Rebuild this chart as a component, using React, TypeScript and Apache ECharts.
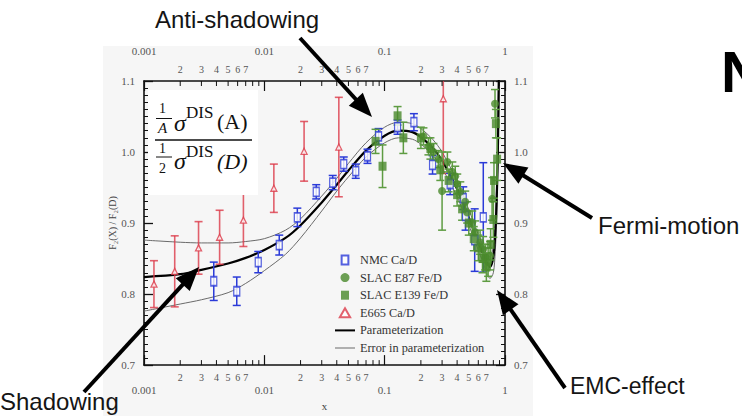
import React, { useEffect, useRef } from 'react';
import * as echarts from 'echarts';

const SERIF = '"Liberation Serif", "Times New Roman", serif';
const SANS = '"Liberation Sans", Arial, sans-serif';

// Axis tick labels
const decadeLabels = ['0.001', '0.01', '0.1', '1'];
const decadeStarts = [0.001, 0.01, 0.1];
const minorMultipliers = [2, 3, 4, 5, 6, 7, 8, 9];
const labeledMultipliers = [2, 3, 4, 5, 6, 7];

// Curves [x, ratio]
const parameterization = [
  [0.001, 0.824], [0.002, 0.828], [0.003, 0.834], [0.005, 0.843], [0.007, 0.851], [0.01, 0.862],
  [0.015, 0.879], [0.02, 0.897], [0.03, 0.929], [0.04, 0.954], [0.05, 0.974], [0.07, 1.002],
  [0.1, 1.023], [0.13, 1.03], [0.17, 1.028], [0.2, 1.021], [0.25, 1.006], [0.3, 0.988],
  [0.4, 0.948], [0.5, 0.908], [0.6, 0.873], [0.7, 0.846], [0.75, 0.838], [0.8, 0.852],
  [0.83, 0.885], [0.85, 0.925], [0.87, 0.99], [0.885, 1.08], [0.895, 1.15],
];
const errorUpper = [
  [0.001, 0.876], [0.002, 0.873], [0.003, 0.872], [0.005, 0.872], [0.007, 0.874], [0.01, 0.878],
  [0.015, 0.89], [0.02, 0.906], [0.03, 0.938], [0.04, 0.963], [0.05, 0.984], [0.07, 1.013],
  [0.1, 1.035], [0.13, 1.042], [0.17, 1.04], [0.2, 1.033], [0.25, 1.018], [0.3, 1.0],
  [0.4, 0.959], [0.5, 0.919], [0.6, 0.884], [0.7, 0.858], [0.75, 0.852], [0.8, 0.868],
  [0.83, 0.905], [0.85, 0.95], [0.865, 1.0], [0.88, 1.08], [0.89, 1.15],
];
const errorLower = [
  [0.001, 0.776], [0.002, 0.786], [0.003, 0.792], [0.005, 0.802], [0.007, 0.815], [0.01, 0.833],
  [0.015, 0.856], [0.02, 0.879], [0.03, 0.917], [0.04, 0.945], [0.05, 0.965], [0.07, 0.993],
  [0.1, 1.013], [0.13, 1.02], [0.17, 1.018], [0.2, 1.011], [0.25, 0.996], [0.3, 0.977],
  [0.4, 0.937], [0.5, 0.897], [0.6, 0.862], [0.7, 0.832], [0.75, 0.822], [0.8, 0.83],
  [0.83, 0.86], [0.85, 0.9], [0.875, 0.99], [0.89, 1.07], [0.9, 1.15],
];

// Data points [x, ratio, error]
const nmcCaD = [
  [0.0038, 0.818, 0.027], [0.0059, 0.804, 0.02], [0.0089, 0.845, 0.015], [0.0133, 0.869, 0.014],
  [0.0188, 0.908, 0.013], [0.027, 0.944, 0.01], [0.037, 0.957, 0.01], [0.0457, 0.983, 0.01],
  [0.0575, 0.973, 0.01], [0.072, 0.994, 0.01], [0.089, 1.022, 0.011], [0.128, 1.035, 0.01],
  [0.175, 1.042, 0.012], [0.25, 0.982, 0.013], [0.35, 0.955, 0.015], [0.45, 0.935, 0.016],
  [0.47, 0.91, 0.02], [0.56, 0.876, 0.044], [0.66, 0.908, 0.077],
];
const e665CaD = [
  [0.00121, 0.814, 0.033], [0.0018, 0.832, 0.05], [0.00284, 0.865, 0.037], [0.00425, 0.88, 0.038],
  [0.0067, 0.904, 0.037], [0.012, 0.949, 0.034], [0.0214, 1.001, 0.042], [0.0416, 1.007, 0.07],
  [0.307, 1.075, 0.105],
];
const slacE87FeD = [
  [0.21, 1.022, 0.012], [0.231, 1.008, 0.012], [0.254, 1.0, 0.012], [0.279, 0.99, 0.012],
  [0.3, 0.945, 0.055], [0.332, 0.986, 0.014], [0.365, 0.972, 0.014], [0.386, 0.966, 0.014],
  [0.401, 0.955, 0.014], [0.425, 0.944, 0.014], [0.467, 0.93, 0.015], [0.485, 0.915, 0.015],
  [0.534, 0.901, 0.016], [0.565, 0.887, 0.016], [0.621, 0.873, 0.017], [0.658, 0.863, 0.018],
  [0.684, 0.852, 0.018], [0.724, 0.845, 0.02], [0.752, 0.854, 0.02], [0.781, 0.934, 0.03],
  [0.826, 1.068, 0.02],
];
const slacE139FeD = [
  [0.084, 1.015, 0.017], [0.096, 0.98, 0.03], [0.128, 1.051, 0.013], [0.143, 1.02, 0.022],
  [0.2, 1.02, 0.015], [0.24, 1.005, 0.015], [0.29, 0.975, 0.015], [0.34, 0.96, 0.016],
  [0.4, 0.94, 0.016], [0.44, 0.92, 0.016], [0.5, 0.9, 0.017], [0.55, 0.878, 0.017],
  [0.6, 0.865, 0.018], [0.65, 0.85, 0.02], [0.7, 0.838, 0.02], [0.76, 0.87, 0.022],
  [0.8, 0.905, 0.025], [0.81, 0.96, 0.025], [0.84, 1.04, 0.02], [0.86, 0.99, 0.03],
];

const BLUE = '#2a3ad8';
const RED = '#dc3a48';
const GREEN = '#4a8a2c';
const GREEN_ERR = '#5e9c42';
const BAND = '#6a6a6a';

function errorBars(name: string, data: number[][], color: string, width: number, z: number, opacity = 1) {
  return {
    type: 'custom',
    name,
    xAxisIndex: 0,
    yAxisIndex: 0,
    clip: true,
    silent: true,
    z,
    data: data.map((d) => [d[0], d[1] - d[2], d[1] + d[2]]),
    encode: { x: 0, y: [1, 2] },
    renderItem: (_p: any, api: any) => {
      const x = api.value(0);
      const lo = api.coord([x, api.value(1)]);
      const hi = api.coord([x, api.value(2)]);
      const c = 4;
      const style = { stroke: color, lineWidth: width, opacity };
      return {
        type: 'group',
        children: [
          { type: 'line', shape: { x1: lo[0], y1: lo[1], x2: hi[0], y2: hi[1] }, style },
          { type: 'line', shape: { x1: lo[0] - c, y1: lo[1], x2: lo[0] + c, y2: lo[1] }, style },
          { type: 'line', shape: { x1: hi[0] - c, y1: hi[1], x2: hi[0] + c, y2: hi[1] }, style },
        ],
      };
    },
  };
}

function arrow(x1: number, y1: number, x2: number, y2: number) {
  const dx = x2 - x1, dy = y2 - y1;
  const L = Math.hypot(dx, dy);
  const ux = dx / L, uy = dy / L;
  const hl = 24, hw = 9.5;
  const bx = x2 - ux * hl, by = y2 - uy * hl;
  return [
    { type: 'line', z: 100, shape: { x1, y1, x2: bx + ux * 3, y2: by + uy * 3 }, style: { stroke: '#000', lineWidth: 4 } },
    {
      type: 'polygon', z: 100,
      shape: { points: [[x2, y2], [bx - uy * hw, by + ux * hw], [bx + uy * hw, by - ux * hw]] },
      style: { fill: '#000' },
    },
  ];
}

function txt(text: string, x: number, y: number, font: string, extra: any = {}) {
  return { type: 'text', x, y, z: 50, style: { text, font, fill: '#111', align: 'left', verticalAlign: 'middle', ...extra } };
}

const decadeFormatter = (v: number) => decadeLabels[Math.round(Math.log10(v)) + 3] ?? '';

export default function App() {
  const ref = useRef<HTMLDivElement>(null);
  useEffect(() => {
    document.body.style.margin = '0';
    const chart = echarts.init(ref.current!, undefined, { renderer: 'svg' });

    const minorTicks = decadeStarts.flatMap((d) => minorMultipliers.map((m) => [d * m, 0.9, m]));

    const xAxisBase = {
      type: 'log', logBase: 10, min: 0.001, max: 1,
      axisLine: { show: true, lineStyle: { color: '#111', width: 1.6 } },
      axisTick: { show: true, inside: true, length: 10, lineStyle: { color: '#111', width: 1.2 } },
      splitLine: { show: false },
      minorTick: { show: false },
      minorSplitLine: { show: false },
    };
    const yAxisBase = {
      type: 'value', min: 0.7, max: 1.1, interval: 0.1,
      axisLine: { show: true, lineStyle: { color: '#111', width: 1.6 } },
      axisTick: { show: true, inside: true, length: 9, lineStyle: { color: '#111', width: 1.3 } },
      minorTick: { show: true, splitNumber: 10, length: 4, lineStyle: { color: '#111', width: 1 } },
      splitLine: { show: false },
      axisLabel: { formatter: (v: number) => v.toFixed(1), color: '#555', fontFamily: SERIF, fontSize: 11, margin: 9 },
    };

    const lineSeries = (name: string, data: number[][], color: string, width: number, z: number) => ({
      type: 'line', name, data, symbol: 'none', showSymbol: false, smooth: 0.3,
      lineStyle: { color, width }, itemStyle: { color }, z,
    });

    const option: any = {
      animation: false,
      grid: { left: 144, right: 237, top: 81, bottom: 48 },
      xAxis: [
        {
          ...xAxisBase, position: 'bottom',
          axisLabel: { formatter: decadeFormatter, color: '#555', fontFamily: SERIF, fontSize: 11, margin: 19 },
          name: 'x', nameLocation: 'middle', nameGap: 33,
          nameTextStyle: { fontFamily: SERIF, fontSize: 11, color: '#444' },
        },
        {
          ...xAxisBase, position: 'top',
          axisLabel: { formatter: decadeFormatter, color: '#555', fontFamily: SERIF, fontSize: 11, margin: 25 },
        },
      ],
      yAxis: [
        {
          ...yAxisBase, position: 'left',
          name: 'F₂(X) / F₂(D)', nameLocation: 'middle', nameGap: 20, nameRotate: 90,
          nameTextStyle: { fontFamily: SERIF, fontSize: 10, color: '#444' },
        },
        { ...yAxisBase, position: 'right' },
      ],
      legend: {
        orient: 'vertical', left: 330, top: 249, itemWidth: 20, itemHeight: 9, itemGap: 5.6,
        selectedMode: false, symbolKeepAspect: true,
        textStyle: { fontFamily: SERIF, fontSize: 12.3, color: '#333', lineHeight: 12 },
        data: [
          { name: 'NMC Ca/D', icon: 'path://M0,0L6,0L6,8L0,8Z' },
          { name: 'SLAC E87 Fe/D', icon: 'circle' },
          { name: 'SLAC E139 Fe/D', icon: 'path://M0,0L8,0L8,9L0,9Z' },
          { name: 'E665 Ca/D', icon: 'path://M4,0L8,7L0,7Z' },
          { name: 'Parameterization', icon: 'path://M0,0L20,0L20,2L0,2Z' },
          { name: 'Error in parameterization', icon: 'path://M0,0L20,0L20,1L0,1Z' },
        ],
      },
      series: [
        {
          type: 'custom', name: 'minor ticks', xAxisIndex: 0, yAxisIndex: 0, clip: false, silent: true, z: 10,
          data: minorTicks, encode: { x: 0, y: 1 },
          renderItem: (_p: any, api: any) => {
            const x = api.value(0);
            const m = api.value(2);
            const b = api.coord([x, 0.7]);
            const t = api.coord([x, 1.1]);
            const st = { stroke: '#111', lineWidth: 1 };
            const children: any[] = [
              { type: 'line', shape: { x1: b[0], y1: b[1], x2: b[0], y2: b[1] - 5 }, style: st },
              { type: 'line', shape: { x1: t[0], y1: t[1], x2: t[0], y2: t[1] + 5 }, style: st },
            ];
            if (labeledMultipliers.includes(m)) {
              const ls = { text: String(m), fontFamily: SERIF, fontSize: 10, fill: '#555', align: 'center', verticalAlign: 'middle' };
              children.push({ type: 'text', x: b[0], y: b[1] + 12, style: ls });
              children.push({ type: 'text', x: t[0], y: t[1] - 12, style: ls });
            }
            return { type: 'group', children };
          },
        },
        lineSeries('Error in parameterization', errorUpper, BAND, 1, 2),
        lineSeries('Error in parameterization', errorLower, BAND, 1, 2),
        lineSeries('Parameterization', parameterization, '#000', 2.2, 3),
        errorBars('e665 err', e665CaD, RED, 1.6, 4, 0.8),
        errorBars('nmc err', nmcCaD, BLUE, 1.5, 4),
        errorBars('e139 err', slacE139FeD, GREEN_ERR, 1.5, 4),
        errorBars('e87 err', slacE87FeD, GREEN_ERR, 1.5, 4),
        {
          type: 'scatter', name: 'NMC Ca/D', data: nmcCaD.map((d) => [d[0], d[1]]), symbol: 'rect', symbolSize: [6, 9],
          itemStyle: { color: '#fff', borderColor: BLUE, borderWidth: 1.5 }, z: 6,
        },
        {
          type: 'scatter', name: 'SLAC E87 Fe/D', data: slacE87FeD.map((d) => [d[0], d[1]]), symbol: 'circle', symbolSize: 8,
          itemStyle: { color: GREEN }, z: 6,
        },
        {
          type: 'scatter', name: 'SLAC E139 Fe/D', data: slacE139FeD.map((d) => [d[0], d[1]]), symbol: 'rect', symbolSize: [8, 9],
          itemStyle: { color: GREEN }, z: 6,
        },
        {
          type: 'scatter', name: 'E665 Ca/D', data: e665CaD.map((d) => [d[0], d[1]]), symbol: 'triangle', symbolSize: 6,
          itemStyle: { color: '#fff', borderColor: RED, borderWidth: 1.3 }, z: 6,
        },
      ],
      graphic: [
        { type: 'rect', z: -100, shape: { x: 103, y: 46, width: 430, height: 370 }, style: { fill: '#f6f6f6' } },
        { type: 'rect', z: 40, shape: { x: 148, y: 90, width: 110, height: 105 }, style: { fill: '#ffffff' } },
        // formula: (1/A) sigma^DIS(A) over (1/2) sigma^DIS(D)
        txt('1', 159, 108, `14px ${SERIF}`),
        { type: 'line', z: 50, shape: { x1: 156, y1: 118.5, x2: 172, y2: 118.5 }, style: { stroke: '#111', lineWidth: 1 } },
        txt('A', 158, 128, `italic 15px ${SERIF}`),
        txt('σ', 174, 123, `italic 24px ${SERIF}`),
        txt('DIS', 186, 112, `17px ${SERIF}`),
        txt('(A)', 217, 121, `22px ${SERIF}`),
        { type: 'line', z: 50, shape: { x1: 155, y1: 140, x2: 252, y2: 140 }, style: { stroke: '#111', lineWidth: 1.3 } },
        txt('1', 159, 148, `14px ${SERIF}`),
        { type: 'line', z: 50, shape: { x1: 156, y1: 157, x2: 172, y2: 157 }, style: { stroke: '#111', lineWidth: 1 } },
        txt('2', 159, 168, `14px ${SERIF}`),
        txt('σ', 174, 161, `italic 24px ${SERIF}`),
        txt('DIS', 186, 151, `17px ${SERIF}`),
        txt('(D)', 217, 161, `italic 22px ${SERIF}`),
        // annotations
        txt('Anti-shadowing', 155, 19, `24px ${SANS}`, { fill: '#151515' }),
        txt('Fermi-motion', 598, 225, `24px ${SANS}`, { fill: '#151515' }),
        txt('EMC-effect', 570, 386, `23px ${SANS}`, { fill: '#151515' }),
        txt('Shadowing', 0, 401, `24px ${SANS}`, { fill: '#151515' }),
        txt('N', 721, 71, `bold 58px ${SANS}`, { fill: '#000' }),
        ...arrow(300, 38, 372, 117),
        ...arrow(592, 218, 503, 163),
        ...arrow(565, 388, 497, 290),
        ...arrow(84, 392, 199, 267),
      ],
    };
    chart.setOption(option);
    return () => chart.dispose();
  }, []);
  return <div ref={ref} style={{ position: 'fixed', left: 0, top: 0, width: 742, height: 416, background: '#fff' }} />;
}
